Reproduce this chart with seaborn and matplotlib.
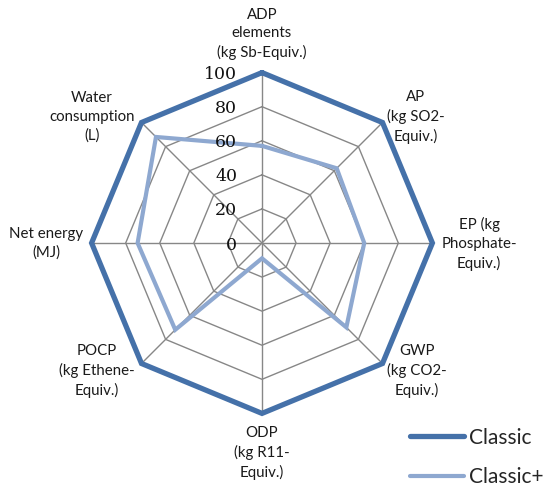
import numpy as np
import pandas as pd
import matplotlib
matplotlib.use("Agg")
import matplotlib.pyplot as plt
import seaborn as sns

# Impact categories, clockwise from the top
categories = [
    "ADP\nelements\n(kg Sb-Equiv.)",
    "AP\n(kg SO2-\nEquiv.)",
    "EP (kg\nPhosphate-\nEquiv.)",
    "GWP\n(kg CO2-\nEquiv.)",
    "ODP\n(kg R11-\nEquiv.)",
    "POCP\n(kg Ethene-\nEquiv.)",
    "Net energy\n(MJ)",
    "Water\nconsumption\n(L)",
]
classic = [100, 100, 100, 100, 100, 100, 100, 100]
classic_plus = [57, 62, 60, 70, 9, 72, 73, 88]
series_names = ["Classic", "Classic+"]
tick_values = [0, 20, 40, 60, 80, 100]

colors = {"Classic": "#4571A9", "Classic+": "#8EA8D0"}
widths = {"Classic": 3.8, "Classic+": 3.0}

sns.set_style("white")
plt.rcParams["font.family"] = ["Lato", "DejaVu Sans"]

W, H = 558, 490
fig = plt.figure(figsize=(W / 100, H / 100), dpi=100)

cx, cy, R = 262, 243, 170.4
ax = fig.add_axes([(cx - R) / W, (H - cy - R) / H, 2 * R / W, 2 * R / H],
                  projection="polar")
ax.set_theta_zero_location("N")
ax.set_theta_direction(-1)
ax.set_ylim(0, 100)
ax.grid(False)
ax.set_xticks([])
ax.set_yticks([])
ax.spines["polar"].set_visible(False)
ax.patch.set_visible(False)

n = len(categories)
theta = np.arange(n) * 2 * np.pi / n
theta_closed = np.append(theta, 2 * np.pi)

# octagonal grid rings and spokes
grid_color = "#878787"
for v in tick_values[1:-1]:
    ax.plot(theta_closed, [v] * (n + 1), color=grid_color, lw=1.0, zorder=1)
for t in theta:
    ax.plot([t, t], [0, 100], color=grid_color, lw=1.0, zorder=1)

# series data
rows = []
for name, vals in zip(series_names, [classic, classic_plus]):
    closed = list(vals) + [vals[0]]
    for k, (t, v) in enumerate(zip(theta_closed, closed)):
        rows.append({"series": name, "theta": t, "value": v, "order": k})
df = pd.DataFrame(rows)

for name in series_names:
    sub = df[df["series"] == name]
    sns.lineplot(data=sub, x="theta", y="value", sort=False, estimator=None,
                 color=colors[name], lw=widths[name], ax=ax, label=name,
                 legend=False, zorder=3)
for line in ax.lines:
    line.set_clip_on(False)
    line.set_solid_joinstyle("miter")
ax.set_xlabel("")
ax.set_ylabel("")

# radial tick labels to the left of the vertical spoke
for v in tick_values:
    ax.annotate(str(v), xy=(0, v), xytext=(-25, -2), textcoords="offset pixels",
                ha="right", va="center", fontsize=12.5, family="DejaVu Serif",
                color="#111111", annotation_clip=False)

# category labels
label_pos = [
    (262, 34, "center"),
    (416, 117, "center"),
    (479, 244, "center"),
    (417, 371, "center"),
    (262, 453, "center"),
    (97, 371, "center"),
    (46, 243.5, "center"),
    (92, 117, "center"),
]
for text, (x, y, ha) in zip(categories, label_pos):
    fig.text(x / W, 1 - y / H, text, ha=ha, va="center", fontsize=10.8,
             color="#1a1a1a", linespacing=1.42)

# legend
handles = [plt.Line2D([], [], color=colors[s], lw=widths[s]) for s in series_names]
fig.legend(handles, series_names, loc="center left",
           bbox_to_anchor=(410 / W, 1 - 457.5 / H), frameon=False,
           fontsize=15, handlelength=2.6, handletextpad=0.25,
           labelspacing=0.95, borderpad=0, borderaxespad=0)

fig.savefig("out.png", dpi=100)
